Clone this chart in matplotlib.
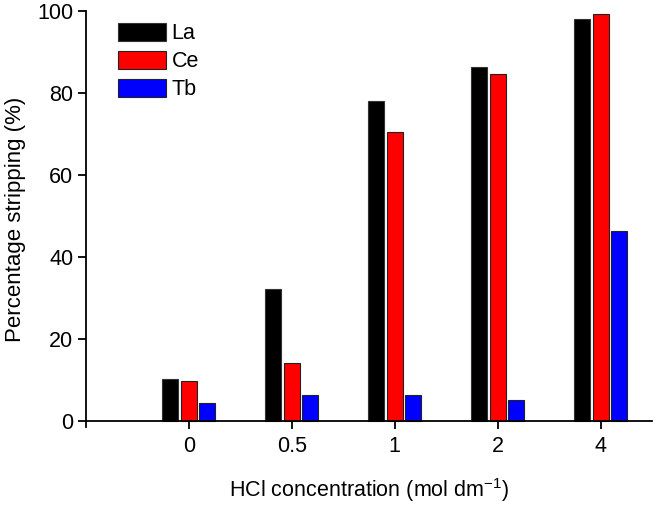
import numpy as np
import matplotlib.pyplot as plt

plt.rcParams['font.family'] = ['Liberation Sans', 'DejaVu Sans']
plt.rcParams['mathtext.fontset'] = 'custom'
plt.rcParams['mathtext.rm'] = 'Liberation Sans'
plt.rcParams['mathtext.it'] = 'Liberation Sans:italic'

# HCl concentration categories (mol dm-1)
conc = ['0', '0.5', '1', '2', '4']
la = [10.2, 32.2, 78.1, 86.4, 98.0]
ce = [9.8, 14.1, 70.6, 84.6, 99.2]
tb = [4.3, 6.4, 6.4, 5.1, 46.4]

fig = plt.figure(figsize=(6.56, 5.07), dpi=100)
ax = fig.add_axes([0.131, 0.158, 0.863, 0.82])

x = np.arange(len(conc))
w = 0.155
step = 0.18
ax.bar(x - step, la, w, color='black', edgecolor='#333333', linewidth=0.8, label='La')
ax.bar(x, ce, w, color='#ff0000', edgecolor='#222222', linewidth=0.8, label='Ce')
ax.bar(x + step, tb, w, color='#0000ff', edgecolor='#222222', linewidth=0.8, label='Tb')

ax.set_xlim(-1.0, 4.5)
ax.set_ylim(-1.5, 100)
ax.spines['top'].set_visible(False)
ax.spines['right'].set_visible(False)
ax.spines['bottom'].set_position(('data', 0))
ax.spines['left'].set_linewidth(1.3)
ax.spines['bottom'].set_linewidth(1.3)

ax.set_xticks(x)
ax.set_xticklabels(conc)
ax.set_yticks([0, 20, 40, 60, 80, 100])
ax.tick_params(axis='both', direction='out', length=6, width=1.3, labelsize=15.5)
ax.tick_params(axis='x', pad=5)
ax.tick_params(axis='y', pad=3)

ax.set_ylabel('Percentage stripping (%)', fontsize=16, labelpad=8)
ax.set_xlabel('HCl concentration (mol dm$^{\\mathregular{-1}}$)', fontsize=15.5, labelpad=14)

ax.legend(loc='upper left', bbox_to_anchor=(118 / 656, 1 - 23 / 507),
          bbox_transform=fig.transFigure, frameon=False, fontsize=15.5,
          borderpad=0, borderaxespad=0, handlelength=2.23, handleheight=0.9,
          labelspacing=0.3, handletextpad=0.25)

fig.savefig('out.png', dpi=100)
